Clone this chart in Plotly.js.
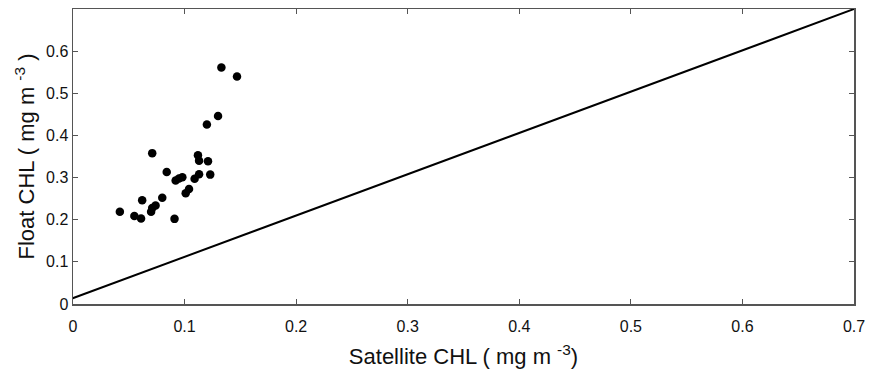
<!DOCTYPE html>
<html><head><meta charset="utf-8">
<script src="https://cdn.plot.ly/plotly-3.0.1.min.js"></script>
<style>html,body{margin:0;padding:0;background:#fff}#chart{width:871px;height:374px}</style>
</head><body><div id="chart"></div>
<script>
const satelliteCHL = [0.133,0.147,0.130,0.120,0.071,0.112,0.113,0.121,0.084,0.123,0.113,0.109,0.098,0.095,0.092,0.104,0.101,0.062,0.080,0.074,0.071,0.070,0.042,0.055,0.061,0.091];
const floatCHL =     [0.561,0.540,0.446,0.426,0.358,0.353,0.340,0.339,0.313,0.307,0.308,0.297,0.301,0.298,0.293,0.273,0.263,0.246,0.252,0.234,0.228,0.219,0.219,0.209,0.203,0.202];
const refLineX = [-0.008, 0.7];
const refLineY = [0.006, 0.7];
const tickVals = [0,0.1,0.2,0.3,0.4,0.5,0.6,0.7];
const yTickVals = [0,0.1,0.2,0.3,0.4,0.5,0.6];

const FONT = 'Liberation Sans, Arial, sans-serif';
const traces = [
  {x: refLineX, y: refLineY, mode: 'lines', line: {color: '#000', width: 2}, hoverinfo: 'skip', cliponaxis: false},
  {x: satelliteCHL, y: floatCHL, mode: 'markers', marker: {color: '#000', size: 8.5}}
];
const axisCommon = {
  showgrid: false, zeroline: false, showline: true, linecolor: '#555', linewidth: 1.5,
  mirror: 'ticks', ticks: 'inside', ticklen: 5, tickcolor: '#555', tickwidth: 1,
  tickfont: {family: FONT, size: 16, color: '#111'}
};
const layout = {
  width: 871, height: 374, showlegend: false,
  paper_bgcolor: '#fff', plot_bgcolor: '#fff',
  margin: {l: 73, r: 17, t: 9, b: 70},
  xaxis: Object.assign({}, axisCommon, {
    range: [0, 0.7], tickvals: tickVals, ticktext: tickVals.map(String), ticklabelstandoff: 7,
    title: {text: 'Satellite CHL ( mg m <sup>-3</sup>)', font: {family: FONT, size: 22, color: '#111'}, standoff: 15}
  }),
  yaxis: Object.assign({}, axisCommon, {
    range: [0, 0.7], tickvals: yTickVals, ticktext: yTickVals.map(String), ticklabelstandoff: 0,
    title: {text: 'Float CHL ( mg m <sup>-3</sup> )', font: {family: FONT, size: 22, color: '#111'}, standoff: 5}
  })
};
Plotly.newPlot('chart', traces, layout, {displayModeBar: false, staticPlot: true});
</script></body></html>
